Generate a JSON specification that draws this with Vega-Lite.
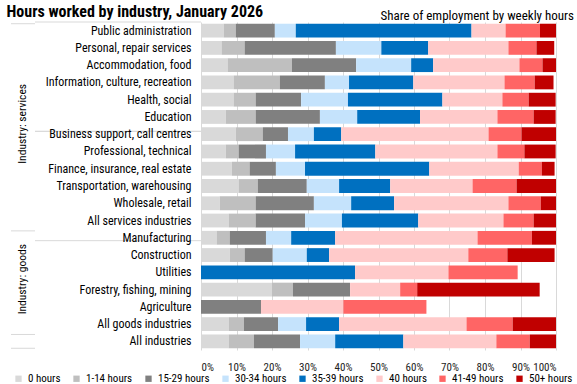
{
  "$schema": "https://vega.github.io/schema/vega-lite/v6.json",
  "padding": {"left": 6, "top": 4, "right": 4, "bottom": 0},
  "background": "white",
  "config": {"view": {"stroke": null}, "font": "Liberation Sans Narrow, Roboto Condensed, DejaVu Sans Condensed, Roboto"},
  "spacing": 0,
  "bounds": "flush",
  "datasets": {
    "rows": [
      {"industry": "Public administration", "0 hours": 6.4, "1-14 hours": 3.4, "15-29 hours": 11.0, "30-34 hours": 5.9, "35-39 hours": 49.5, "40 hours": 9.6, "41-49 hours": 9.7, "50+ hours": 4.5},
      {"industry": "Personal, repair services", "0 hours": 5.8, "1-14 hours": 6.5, "15-29 hours": 25.7, "30-34 hours": 12.8, "35-39 hours": 13.2, "40 hours": 22.6, "41-49 hours": 7.9, "50+ hours": 5.0},
      {"industry": "Accommodation, food", "0 hours": 7.5, "1-14 hours": 18.1, "15-29 hours": 18.1, "30-34 hours": 15.5, "35-39 hours": 6.2, "40 hours": 24.3, "41-49 hours": 6.5, "50+ hours": 3.8},
      {"industry": "Information, culture, recreation", "0 hours": 9.2, "1-14 hours": 13.0, "15-29 hours": 12.7, "30-34 hours": 6.8, "35-39 hours": 18.1, "40 hours": 25.7, "41-49 hours": 8.5, "50+ hours": 5.3},
      {"industry": "Health, social", "0 hours": 9.2, "1-14 hours": 6.2, "15-29 hours": 12.8, "30-34 hours": 13.2, "35-39 hours": 26.6, "40 hours": 16.9, "41-49 hours": 7.4, "50+ hours": 7.6},
      {"industry": "Education", "0 hours": 7.0, "1-14 hours": 8.4, "15-29 hours": 18.1, "30-34 hours": 10.5, "35-39 hours": 17.7, "40 hours": 21.8, "41-49 hours": 10.2, "50+ hours": 6.2},
      {"industry": "Business support, call centres", "0 hours": 9.8, "1-14 hours": 7.6, "15-29 hours": 7.1, "30-34 hours": 7.3, "35-39 hours": 7.7, "40 hours": 41.5, "41-49 hours": 9.3, "50+ hours": 9.7},
      {"industry": "Professional, technical", "0 hours": 7.0, "1-14 hours": 3.6, "15-29 hours": 7.7, "30-34 hours": 8.2, "35-39 hours": 22.6, "40 hours": 34.4, "41-49 hours": 7.6, "50+ hours": 8.8},
      {"industry": "Finance, insurance, real estate", "0 hours": 8.7, "1-14 hours": 5.0, "15-29 hours": 7.4, "30-34 hours": 8.2, "35-39 hours": 35.0, "40 hours": 25.2, "41-49 hours": 6.5, "50+ hours": 3.6},
      {"industry": "Transportation, warehousing", "0 hours": 10.6, "1-14 hours": 5.4, "15-29 hours": 13.8, "30-34 hours": 9.1, "35-39 hours": 14.4, "40 hours": 23.2, "41-49 hours": 12.4, "50+ hours": 11.1},
      {"industry": "Wholesale, retail", "0 hours": 5.3, "1-14 hours": 10.1, "15-29 hours": 16.4, "30-34 hours": 10.5, "35-39 hours": 12.1, "40 hours": 32.2, "41-49 hours": 9.1, "50+ hours": 4.3},
      {"industry": "All services industries", "0 hours": 7.8, "1-14 hours": 7.6, "15-29 hours": 13.9, "30-34 hours": 10.4, "35-39 hours": 21.5, "40 hours": 24.0, "41-49 hours": 8.5, "50+ hours": 6.3},
      {"industry": "Manufacturing", "0 hours": 4.4, "1-14 hours": 3.7, "15-29 hours": 10.2, "30-34 hours": 7.1, "35-39 hours": 12.4, "40 hours": 40.1, "41-49 hours": 15.3, "50+ hours": 6.8},
      {"industry": "Construction", "0 hours": 8.1, "1-14 hours": 4.2, "15-29 hours": 7.9, "30-34 hours": 9.6, "35-39 hours": 6.3, "40 hours": 39.2, "41-49 hours": 11.0, "50+ hours": 13.3},
      {"industry": "Utilities", "35-39 hours": 43.4, "40 hours": 26.3, "41-49 hours": 19.5},
      {"industry": "Forestry, fishing, mining", "0 hours": 20.0, "1-14 hours": 5.9, "15-29 hours": 16.1, "40 hours": 14.1, "41-49 hours": 4.8, "50+ hours": 34.5},
      {"industry": "Agriculture", "15-29 hours": 16.9, "40 hours": 23.2, "41-49 hours": 23.4},
      {"industry": "All goods industries", "0 hours": 7.8, "1-14 hours": 4.3, "15-29 hours": 9.6, "30-34 hours": 7.9, "35-39 hours": 9.3, "40 hours": 35.9, "41-49 hours": 13.0, "50+ hours": 12.2},
      {"industry": "All industries", "0 hours": 7.8, "1-14 hours": 7.1, "15-29 hours": 13.0, "30-34 hours": 9.9, "35-39 hours": 19.2, "40 hours": 26.2, "41-49 hours": 9.4, "50+ hours": 7.4}
    ],
    "groups": [
      {"group": "Industry: services", "anchor": "Education"},
      {"group": "Industry: goods", "anchor": "Utilities"}
    ],
    "separators": [
      {"row": "Public administration", "edge": "top"},
      {"row": "Manufacturing", "edge": "top"},
      {"row": "All industries", "edge": "top"},
      {"row": "All industries", "edge": "bottom"}
    ]
  },
  "hconcat": [
    {
      "width": 24,
      "height": 328,
      "title": {"text": "Hours worked by industry, January 2026", "anchor": "start", "fontSize": 16, "fontWeight": "bold", "baseline": "alphabetic", "offset": -11, "dx": -4, "color": "#000000"},
      "layer": [
        {
          "data": {"name": "groups"},
          "mark": {"type": "text", "angle": 270, "fontSize": 11.5, "color": "#000000"},
          "encoding": {
            "y": {"field": "anchor", "type": "nominal", "bandPosition": 1, "axis": null,
              "scale": {"domain": ["Public administration", "Personal, repair services", "Accommodation, food", "Information, culture, recreation", "Health, social", "Education", "Business support, call centres", "Professional, technical", "Finance, insurance, real estate", "Transportation, warehousing", "Wholesale, retail", "All services industries", "Manufacturing", "Construction", "Utilities", "Forestry, fishing, mining", "Agriculture", "All goods industries", "All industries"], "paddingInner": 0.2, "paddingOuter": 0.1}},
            "text": {"field": "group"}
          }
        },
        {
          "data": {"name": "separators"},
          "transform": [{"filter": "datum.edge == 'top'"}],
          "mark": {"type": "rule", "color": "#D9D9D9", "strokeWidth": 1},
          "encoding": {"y": {"field": "row", "type": "nominal", "bandPosition": 0, "axis": null}}
        },
        {
          "data": {"name": "separators"},
          "transform": [{"filter": "datum.edge == 'bottom'"}],
          "mark": {"type": "rule", "color": "#D9D9D9", "strokeWidth": 1},
          "encoding": {"y": {"field": "row", "type": "nominal", "bandPosition": 1, "axis": null}}
        }
      ]
    },
    {
      "width": 166,
      "height": 328,
      "layer": [
        {
          "data": {"name": "separators"},
          "transform": [{"filter": "datum.edge == 'top'"}],
          "mark": {"type": "rule", "color": "#D9D9D9", "strokeWidth": 1},
          "encoding": {"y": {"field": "row", "type": "nominal", "bandPosition": 0, "axis": null}}
        },
        {
          "data": {"name": "separators"},
          "transform": [{"filter": "datum.edge == 'bottom'"}],
          "mark": {"type": "rule", "color": "#D9D9D9", "strokeWidth": 1},
          "encoding": {"y": {"field": "row", "type": "nominal", "bandPosition": 1, "axis": null}}
        }
      ]
    },
    {
      "width": 355,
      "height": 328,
      "title": {"text": "Share of employment  by weekly hours", "anchor": "end", "fontSize": 13, "fontWeight": "normal", "baseline": "alphabetic", "offset": -11, "dx": 18, "color": "#000000"},
      "data": {"name": "rows"},
      "transform": [
        {"fold": ["0 hours", "1-14 hours", "15-29 hours", "30-34 hours", "35-39 hours", "40 hours", "41-49 hours", "50+ hours"], "as": ["hours", "pct"]},
        {"filter": "isValid(datum.pct)"}
      ],
      "mark": {"type": "bar"},
      "encoding": {
        "y": {"field": "industry", "type": "nominal",
          "scale": {"domain": ["Public administration", "Personal, repair services", "Accommodation, food", "Information, culture, recreation", "Health, social", "Education", "Business support, call centres", "Professional, technical", "Finance, insurance, real estate", "Transportation, warehousing", "Wholesale, retail", "All services industries", "Manufacturing", "Construction", "Utilities", "Forestry, fishing, mining", "Agriculture", "All goods industries", "All industries"], "paddingInner": 0.2, "paddingOuter": 0.1},
          "axis": {"title": null, "domain": false, "ticks": false, "labelPadding": 10, "labelFontSize": 12, "labelColor": "#000000", "labelLimit": 300}},
        "x": {"field": "pct", "type": "quantitative", "stack": "zero",
          "scale": {"domain": [0, 100], "nice": false},
          "axis": {"title": null, "values": [0, 10, 20, 30, 40, 50, 60, 70, 80, 90, 100], "labelExpr": "datum.value + '%'", "domain": false, "ticks": false, "gridColor": "#D9D9D9", "labelPadding": 11, "labelFontSize": 11, "labelColor": "#222222"}},
        "color": {"field": "hours", "type": "nominal",
          "scale": {"domain": ["0 hours", "1-14 hours", "15-29 hours", "30-34 hours", "35-39 hours", "40 hours", "41-49 hours", "50+ hours"],
                    "range": ["#D9D9D9", "#BFBFBF", "#808080", "#C5E3FC", "#0070C0", "#FFCACA", "#FF6565", "#C00000"]},
          "legend": {"orient": "none", "legendX": 2, "legendY": 351, "direction": "horizontal", "title": null, "symbolType": "square", "symbolSize": 40, "symbolStrokeWidth": 0, "labelFontSize": 11, "labelColor": "#000000", "columnPadding": 10, "labelOffset": 4}}
      }
    }
  ]
}
